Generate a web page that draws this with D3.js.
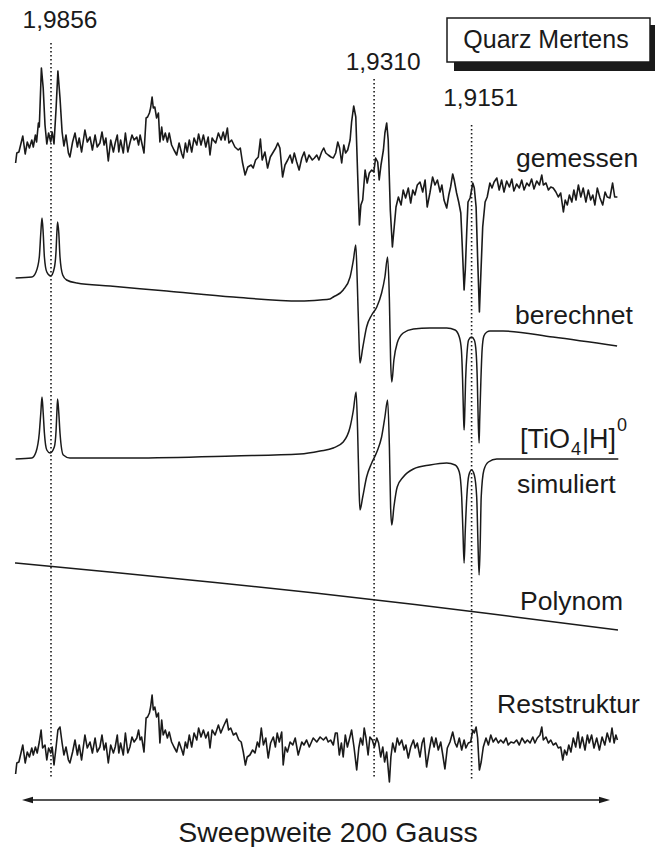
<!DOCTYPE html>
<html><head><meta charset="utf-8">
<script src="https://cdn.jsdelivr.net/npm/d3@7"></script>
<style>
html,body{margin:0;padding:0;background:#fff;}
svg{display:block;font-family:"Liberation Sans",Arial,Helvetica,sans-serif;}
</style></head><body>
<svg id="chart" width="655" height="847"></svg>
<script>
// EPR spectrum of quartz: field offset in Gauss (0..200 sweep), intensity in arbitrary units.
const gemessen = [[0.2,-13],[0.6,-3],[1.3,-2],[2.6,14],[3.4,-4],[4.1,8],[4.8,2],[5.6,10],[6.1,3],[6.8,15],[7.2,8],[7.8,27],[8.1,23],[8.8,82],[9.4,62],[10,25],[10.6,6],[11.2,17],[11.9,8],[12.4,18],[13,6],[13.7,42],[14.3,79],[15,52],[15.7,18],[16.3,4],[17,15],[17.8,-3],[18.3,-7],[19.2,8],[20,17],[20.8,3],[21.4,12],[22.2,-2],[23.3,20],[24.1,8],[25,13],[25.8,0],[26.7,15],[27.4,3],[28.3,7],[29,18],[29.7,5],[30.3,12],[31.1,-11],[31.9,10],[32.8,-2],[33.4,7],[34.1,15],[34.6,-2],[35.2,10],[36.1,-3],[36.8,17],[37.6,-2],[38.3,7],[39,15],[39.7,10],[40.6,13],[41.2,5],[41.7,15],[42.2,8],[43,-3],[43.7,32],[44.2,33],[44.8,37],[45.2,42],[45.7,53],[46.1,42],[46.6,43],[47.2,32],[47.8,37],[48.3,8],[48.9,23],[49.4,10],[50.1,17],[50.8,8],[51.4,17],[52.2,5],[53,0],[53.9,-5],[54.7,7],[55.6,-4],[56.1,-8],[56.8,7],[57.4,-2],[58.1,10],[58.9,-2],[59.7,12],[60.6,5],[61.2,16],[62,5],[62.8,15],[63.6,3],[64.4,13],[65,-5],[65.7,12],[66.1,10],[66.9,7],[67.8,17],[68.7,10],[69.4,18],[70,10],[70.8,22],[71.3,7],[72.2,10],[73.3,3],[74.4,0],[75.1,2],[75.8,-12],[76.7,-25],[77.6,-17],[78.7,-15],[79.4,-18],[80.2,-10],[81.1,-7],[81.8,11],[82.4,-10],[83.3,-2],[84.2,-18],[85.1,-7],[86.1,-2],[86.9,2],[87.6,7],[88.3,2],[89.2,-27],[90,-15],[90.9,-10],[91.7,-5],[92.4,-13],[93.1,-3],[93.9,-12],[94.7,-20],[95.6,-8],[96.4,-2],[97.2,-12],[98,-5],[99.1,-10],[99.8,-8],[100.6,-5],[101.3,-10],[102.2,-2],[102.9,2],[103.6,-3],[104.4,-5],[105.3,-7],[106.1,-8],[106.9,-3],[107.6,8],[108.2,2],[108.9,-13],[109.6,5],[110.2,-3],[110.9,0],[111.7,10],[112.2,28],[112.9,44],[113.6,33],[114.2,-23],[114.8,-75],[115.3,-55],[115.9,-50],[116.7,-20],[117.4,-33],[118.1,-23],[118.9,-20],[119.6,-22],[120.2,-8],[120.9,-12],[121.4,-30],[122,-15],[122.8,0],[123.3,17],[123.9,27],[124.4,10],[125.1,-60],[125.8,-97],[126.4,-77],[127,-57],[127.8,-47],[128.7,-55],[129.4,-40],[130.2,-48],[131.1,-38],[131.9,-53],[132.6,-40],[133.3,-45],[134.1,-35],[135,-32],[135.9,-42],[136.7,-30],[137.4,-57],[138.3,-43],[139.2,-27],[140,-35],[140.8,-30],[141.7,-42],[142.3,-35],[143,-50],[143.9,-58],[144.6,-45],[145.2,-37],[145.9,-24],[146.4,-30],[147.2,-43],[147.9,-52],[148.6,-63],[149.1,-97],[149.7,-140],[150.1,-120],[150.6,-80],[151,-52],[151.7,-48],[152.6,-33],[153.1,-38],[153.7,-57],[154.2,-107],[154.8,-162],[155.3,-123],[155.9,-77],[156.7,-52],[157.4,-47],[158.3,-33],[159,-38],[159.7,-32],[160.6,-28],[161.4,-40],[162.2,-30],[163,-42],[163.9,-31],[164.8,-37],[165.6,-29],[166.3,-41],[167.2,-34],[168.1,-38],[168.9,-30],[169.7,-40],[170.6,-33],[171.4,-36],[172.2,-29],[173,-39],[173.9,-31],[174.8,-35],[175.6,-25],[176.1,-35],[177,-33],[177.8,-40],[178.6,-37],[179.4,-38],[180.3,-42],[181.1,-47],[181.9,-43],[182.8,-62],[183.4,-50],[184.1,-55],[184.8,-45],[185.6,-52],[186.3,-40],[187,-50],[187.8,-35],[188.6,-47],[189.4,-38],[190.3,-52],[191.1,-40],[191.9,-50],[192.6,-45],[193.3,-55],[194.1,-38],[195,-48],[195.9,-55],[196.7,-42],[197.4,-47],[198.3,-48],[199.2,-33],[199.9,-47],[200.8,-47]];

const berechnet = [[0.2,2],[5.6,3],[7,8],[8.1,23],[8.6,47],[9,62],[9.4,47],[9.8,23],[10.6,8],[11.9,4],[13.1,12],[13.7,30],[13.95,47],[14.2,58],[14.6,47],[15,23],[15.9,5],[17.2,0],[20.6,-3],[31.7,-6],[50.6,-11],[72.8,-17],[95,-21],[101.7,-20],[105,-19],[106.1,-17],[109.4,-10],[111.7,3],[112.8,20],[113.6,35],[114.1,-3],[114.7,-63],[115,-83],[115.9,-68],[117.2,-47],[118.9,-35],[120.6,-27],[122.2,-13],[123.3,3],[124.2,23],[124.8,-20],[125.2,-80],[125.6,-102],[126.3,-80],[127.4,-63],[129.4,-53],[132.8,-49],[138.3,-48],[143.9,-48],[146.7,-50],[148.1,-57],[148.8,-70],[149.2,-100],[149.5,-135],[149.7,-150],[149.9,-135],[150.2,-100],[150.7,-72],[151.2,-60],[152.2,-57],[153.1,-60],[153.7,-72],[154.1,-100],[154.4,-140],[154.7,-163],[154.9,-140],[155.3,-100],[155.7,-70],[156.3,-56],[157.3,-52],[158.3,-51],[162.7,-51],[179.3,-57],[200.7,-66]];

const simuliert = [[0.2,-1],[5.6,0],[7,6],[8.1,25],[8.6,45],[9,61],[9.4,45],[9.8,25],[10.6,8],[11.7,5],[13.1,11],[13.7,28],[13.95,45],[14.2,59],[14.6,45],[15,25],[16.1,3],[18.3,0],[39.4,0],[72.8,2],[95,4],[101.7,7],[106.1,10],[109.4,16],[111.7,31],[112.8,48],[113.7,66],[114.2,28],[114.7,-32],[115,-52],[115.9,-39],[117.2,-19],[118.9,-5],[120.6,6],[122.2,21],[123.3,41],[124.2,58],[124.8,11],[125.2,-49],[125.6,-67],[126.3,-49],[127.4,-29],[129.4,-19],[132.8,-11],[138.3,-7],[143.9,-5],[146.7,-7],[148.1,-14],[148.9,-39],[149.3,-72],[149.7,-105],[150.1,-72],[150.6,-39],[151.3,-17],[152.2,-12],[153.1,-17],[153.9,-39],[154.3,-82],[154.7,-117],[155.1,-82],[155.4,-39],[156.3,-12],[157.8,-4],[160.6,-1],[179.4,-1],[201.1,-1]];

const polynom = [[0,33],[33.3,23.5],[66.7,13.5],[100,3],[133.3,-8.5],[166.7,-21],[201,-34]];

const reststruktur = [[0.2,-24],[0.6,-13],[1.3,-12],[2.6,5],[3.4,-13],[4.1,-2],[4.8,-7],[5.6,2],[6.1,-5],[6.8,3],[7.4,-3],[8.1,8],[8.7,20],[9.2,2],[10,5],[10.6,-10],[11.2,2],[11.9,-3],[12.4,3],[13,-15],[13.7,3],[14.3,20],[15,23],[15.7,7],[16.3,-5],[17,3],[17.8,-10],[18.3,-13],[19.2,-2],[20,10],[20.8,-5],[21.4,5],[22.2,-10],[23.3,15],[24.1,2],[25,8],[25.8,-3],[26.7,12],[27.4,-2],[28.3,3],[29,15],[29.7,0],[30.3,7],[31.1,-13],[31.9,5],[32.8,-3],[33.4,3],[34.1,15],[34.6,-3],[35.2,7],[36.1,-5],[36.8,17],[37.6,-3],[38.3,3],[39,13],[39.7,8],[40.6,12],[41.2,20],[41.7,10],[42.2,13],[43,-2],[43.7,32],[44.2,33],[44.8,37],[45.2,43],[45.7,55],[46.1,40],[46.6,43],[47.2,33],[47.8,37],[48.3,7],[48.9,30],[49.4,15],[50.1,20],[50.8,12],[51.4,18],[52.2,8],[53,3],[53.9,-2],[54.7,8],[55.6,0],[56.1,-5],[56.8,8],[57.4,2],[58.1,15],[58.9,3],[59.7,17],[60.6,10],[61.2,22],[62,13],[62.8,20],[63.6,12],[64.4,18],[65,2],[65.7,20],[66.7,15],[67.8,25],[68.6,17],[69.4,23],[70.6,31],[71.2,20],[71.9,22],[72.8,15],[73.7,17],[74.6,10],[75.4,8],[76.1,-2],[76.8,-15],[77.4,-7],[78.3,-5],[79.2,0],[80,-3],[80.8,8],[81.4,3],[82.1,22],[82.8,5],[83.6,12],[84.4,-8],[85.2,7],[86.1,13],[86.8,3],[87.4,17],[88.1,8],[88.9,18],[89.4,-15],[90.1,3],[90.8,-2],[91.7,8],[92.6,5],[93.4,12],[94.4,-5],[95.6,8],[96.3,5],[97.2,10],[98.1,3],[99.4,12],[100.6,8],[101.7,13],[102.8,10],[103.7,13],[104.4,8],[105.2,10],[106.1,5],[106.8,17],[107.4,17],[108.1,-5],[108.8,7],[109.4,-7],[110.1,15],[110.8,3],[111.4,10],[112.2,20],[113,3],[113.9,-20],[114.6,2],[115.2,12],[115.9,5],[116.4,22],[117,12],[117.7,-5],[118.3,13],[119.1,10],[119.8,3],[120.6,12],[121.2,7],[121.9,-7],[122.6,3],[123.2,-12],[123.9,-2],[124.8,-32],[125.3,-7],[125.9,7],[126.7,-2],[127.4,12],[128.1,5],[128.9,10],[129.7,0],[130.3,5],[131.1,-8],[131.9,3],[132.8,10],[133.4,2],[134.1,7],[135,-7],[135.7,7],[136.3,12],[137.2,-17],[138.1,0],[138.9,13],[139.7,3],[140.3,12],[141.1,0],[141.9,8],[142.6,-5],[143.3,-19],[144.1,2],[145,8],[145.9,18],[146.7,7],[147.3,3],[148.1,12],[148.9,0],[149.7,10],[150.3,2],[151.1,7],[151.9,8],[152.6,20],[153.1,17],[153.7,23],[154.2,12],[154.8,-20],[155.4,-12],[156.1,3],[157,12],[157.8,5],[158.6,15],[159.4,8],[160.3,12],[161.1,7],[161.9,10],[162.8,7],[163.7,12],[164.4,5],[165.3,8],[166.3,7],[167.2,10],[168.1,5],[169,12],[170,7],[170.8,10],[171.7,7],[172.6,13],[173.3,7],[174.1,12],[175,15],[175.6,23],[176.1,10],[177,13],[177.8,7],[178.6,10],[179.4,5],[180.3,7],[181.1,2],[181.9,3],[182.6,-10],[183.2,0],[183.9,-5],[184.6,5],[185.3,-2],[186.1,12],[186.9,3],[187.7,18],[188.3,2],[189.1,13],[190,0],[190.8,15],[191.4,7],[192.2,15],[193,2],[193.9,12],[194.8,0],[195.7,13],[196.6,5],[197.4,17],[198.3,8],[199,22],[199.7,7],[200.3,15],[200.8,10]];

// g-factor markers and the field offset at which each line sits
const gLabels = ["1,9856", "1,9310", "1,9151"];
const gField = [12, 119.7, 152.2];

const seriesNames = ["gemessen", "berechnet", "simuliert", "Polynom", "Reststruktur"];
const sweepLabel = "Sweepweite 200 Gauss";
const sampleLabel = "Quarz Mertens";

const ink = "#1a1a1a";
const svg = d3.select("#chart");

const x = d3.scaleLinear().domain([0, 200]).range([15, 615]);

// each trace gets its own vertical band
const bands = [
  { data: gemessen,     base: 150, curve: d3.curveLinear,    width: 1.6 },
  { data: berechnet,    base: 280, curve: d3.curveMonotoneX, width: 1.5 },
  { data: simuliert,    base: 458, curve: d3.curveMonotoneX, width: 1.5 },
  { data: polynom,      base: 596, curve: d3.curveMonotoneX, width: 1.5 },
  { data: reststruktur, base: 750, curve: d3.curveLinear,    width: 1.6 }
];

// dotted g-marker lines
const markerTop = [43, 79, 125];
const markerLabelY = [28, 70, 106];
svg.append("g").selectAll("line").data(gField).join("line")
  .attr("x1", d => x(d)).attr("x2", d => x(d))
  .attr("y1", (d, i) => markerTop[i]).attr("y2", 779)
  .attr("stroke", ink).attr("stroke-width", 1.6)
  .attr("stroke-dasharray", "1.5,2.5");

svg.append("g").selectAll("text").data(gLabels).join("text")
  .attr("x", (d, i) => x(gField[i]) + 9)
  .attr("y", (d, i) => markerLabelY[i])
  .attr("text-anchor", "middle")
  .attr("font-size", 24.5).attr("fill", ink)
  .text(d => d);

// traces
bands.forEach(b => {
  const y = d3.scaleLinear().domain([-200, 200]).range([b.base + 200, b.base - 200]);
  const line = d3.line().x(d => x(d[0])).y(d => y(d[1])).curve(b.curve);
  svg.append("path").datum(b.data)
    .attr("d", line)
    .attr("fill", "none").attr("stroke", ink)
    .attr("stroke-width", b.width).attr("stroke-linejoin", "round");
});

// trace labels
const labelPos = [[516, 167], [515, 324], [517, 493], [520, 610], [497, 713]];
svg.append("g").selectAll("text").data(seriesNames).join("text")
  .attr("x", (d, i) => labelPos[i][0]).attr("y", (d, i) => labelPos[i][1])
  .attr("font-size", 26.5).attr("fill", ink)
  .text(d => d);

// species label [TiO4|H]0
const sp = svg.append("text").attr("x", 520).attr("y", 448)
  .attr("font-size", 27).attr("fill", ink);
sp.append("tspan").text("[TiO");
sp.append("tspan").attr("font-size", 18).attr("dx", 1).attr("dy", 7).text("4");
sp.append("tspan").attr("dx", 1).attr("dy", -7).text("|H]");
sp.append("tspan").attr("font-size", 18).attr("dx", 1).attr("dy", -17).text("0");

// sample box with drop shadow
svg.append("rect").attr("x", 454).attr("y", 25).attr("width", 205).attr("height", 46).attr("fill", ink);
svg.append("rect").attr("x", 447).attr("y", 18).attr("width", 203).attr("height", 44)
  .attr("fill", "#fff").attr("stroke", ink).attr("stroke-width", 1.5);
svg.append("text").attr("x", 546).attr("y", 48).attr("text-anchor", "middle")
  .attr("font-size", 25).attr("fill", ink).text(sampleLabel);

// sweep width arrow
const ay = 800, ax0 = x.range()[0] + 7, ax1 = x.range()[1] - 5;
svg.append("line").attr("x1", ax0 + 6).attr("x2", ax1 - 6).attr("y1", ay).attr("y2", ay)
  .attr("stroke", ink).attr("stroke-width", 1.4);
svg.append("path").attr("d", `M${ax0},${ay} L${ax0 + 11},${ay - 3.2} L${ax0 + 11},${ay + 3.2} Z`).attr("fill", ink);
svg.append("path").attr("d", `M${ax1},${ay} L${ax1 - 11},${ay - 3.2} L${ax1 - 11},${ay + 3.2} Z`).attr("fill", ink);
svg.append("text").attr("x", 328).attr("y", 842).attr("text-anchor", "middle")
  .attr("font-size", 28.5).attr("fill", ink).text(sweepLabel);
</script>
</body></html>
